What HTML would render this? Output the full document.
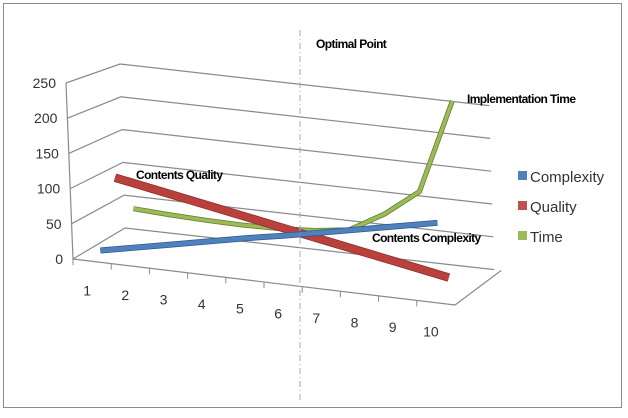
<!DOCTYPE html>
<html><head><meta charset="utf-8"><style>
body{margin:0;background:#fff;width:628px;height:413px;overflow:hidden}
svg text{font-family:"Liberation Sans",sans-serif}
</style></head><body>
<svg id="c" width="628" height="413">
<rect x="3.5" y="3.5" width="618" height="404" fill="#fff" stroke="#8c8c8c"/>
<g id="grid"></g><g id="series"></g><g id="labels"></g>
</svg>
<script>
const categories=["1","2","3","4","5","6","7","8","9","10"];
const yTicks=[0,50,100,150,200,250];
const complexity=[8,19,30,41,52,62,73,84,95,106];
const quality=[100,90,80,70,60,50,40,30,20,10];
const time=[40,37,35,34,35,38,45,75,115,258];
const NS="http://www.w3.org/2000/svg";
function mk(tag,attrs,parent){const e=document.createElementNS(NS,tag);for(const k in attrs)e.setAttribute(k,attrs[k]);parent.appendChild(e);return e;}
function P(t,d,v){
 const fx=73+382*t-7*v/250, fy=259+46*t-176*v/250;
 const bx=125+355*t-5*v/250, by=228+40*t-164*v/250;
 return [fx+(bx-fx)*d, fy+(by-fy)*d];
}
const grid=document.getElementById('grid');
yTicks.forEach(v=>{
 const a=P(0,0,v),b=P(0,1,v),c=P(1.04,1,v);
 const pl=mk('polyline',{points:`${a} ${b} ${c}`,fill:'none',stroke:'#8a8a8a','stroke-width':1.2},grid);
 
 
 const t=mk('text',{x:a[0]-10,y:a[1]+5,'text-anchor':'end','font-size':14,fill:'#333'},grid);
 t.textContent=v;
 
 
});
{const a=P(0,0,0),b=P(0,0,250),c=P(1,0,0),d=P(1.06,1,0);
mk('line',{x1:a[0],y1:a[1],x2:b[0],y2:b[1],stroke:'#8a8a8a','stroke-width':1.2,},grid);
mk('polyline',{points:`${a} ${c} ${d}`,fill:'none',stroke:'#8a8a8a','stroke-width':1.2,},grid);}
categories.forEach((c,i)=>{
 const p=P(i/10,0,0),q=P((i+0.5)/10,0,0);
 const tk=mk('line',{x1:p[0],y1:p[1],x2:p[0],y2:p[1]+6,stroke:'#8a8a8a'},grid);
 
 
 const t=mk('text',{x:q[0]-5,y:q[1]+34,'text-anchor':'middle','font-size':14,fill:'#333'},grid);
 t.textContent=c;
 
 
});
const sg=document.getElementById('series');
function ribbon(vals,d,col,dark,w,name){
 const pts=vals.map((v,i)=>P((i+0.5)/10,d,v).join(',')).join(' ');
 const a=mk('polyline',{points:pts,fill:'none',stroke:dark,'stroke-width':w+1.5},sg);
 
 
 const b=mk('polyline',{points:pts,fill:'none',stroke:col,'stroke-width':w},sg);
 
 
}
ribbon(time,5/6,'#9bbb59','#5e7a2a',3.5,'time');
ribbon(quality,0.5,'#b8413d','#8e2c29',7,'quality');
ribbon(complexity,1/6,'#4f81bd','#2d5a8e',4.5,'complexity');
</script>
<svg style="position:absolute;left:0;top:0" width="628" height="413">
<line x1="300" y1="30" x2="300" y2="402" stroke="#8fb0d4" stroke-width="1" stroke-dasharray="6,3,1,3"/>
<g font-family="Liberation Sans, sans-serif" font-weight="bold" font-size="12" fill="#000" letter-spacing="-0.6">
<text x="316" y="48">Optimal Point</text>
<text x="136" y="179">Contents Quality</text>
<text x="467" y="103">Implementation Time</text>
<text x="372" y="242">Contents Complexity</text>
</g>
<g font-family="Liberation Sans, sans-serif" font-size="15" fill="#333">
<rect x="518" y="171" width="9" height="9" fill="#4f81bd"/>
<text x="530" y="182">Complexity</text>
<rect x="518" y="201" width="9" height="9" fill="#c0504d"/>
<text x="530" y="212">Quality</text>
<rect x="518" y="231" width="9" height="9" fill="#9bbb59"/>
<text x="530" y="242">Time</text>
</g>
</svg>
</body></html>
